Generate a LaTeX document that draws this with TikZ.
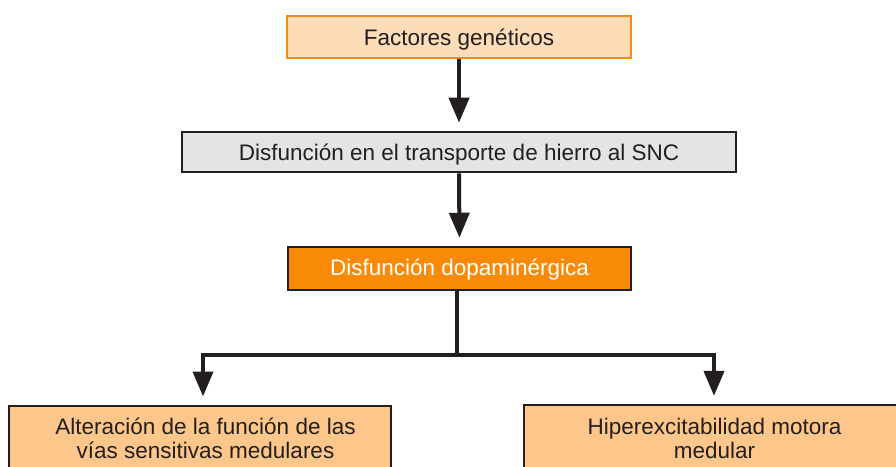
\documentclass[tikz,border=0pt]{standalone}
\usepackage{fontspec}
\setmainfont{Liberation Sans}
\usetikzlibrary{arrows.meta}
\definecolor{ink}{HTML}{231F20}
\definecolor{orangeline}{HTML}{F98C10}
\definecolor{peach}{HTML}{FDDCB8}
\definecolor{greyfill}{HTML}{E3E4E5}
\definecolor{orangefill}{HTML}{F98A08}
\definecolor{tanfill}{HTML}{FDC68A}
\begin{document}
\begin{tikzpicture}[x=1pt,y=-1pt,
  boxshape/.style={draw=ink,line width=2.2pt,inner sep=0pt,rectangle},
  txt/.style={inner sep=0pt,anchor=base,text=ink,align=center,
    font=\fontsize{22.5}{23.5}\selectfont},
  conn/.style={draw=ink,line width=4pt,line join=miter},
  arr/.style={conn,-{Triangle[width=20pt,length=25pt]},shorten >=8pt}]
\clip (0,0) rectangle (896,466);
\fill[white] (0,0) rectangle (896,466);
% boxes
\node[boxshape,draw=orangeline,fill=peach,minimum width=343.8pt,minimum height=42.1pt] (b1) at (459,37.2) {};
\node[boxshape,fill=greyfill,minimum width=553.8pt,minimum height=40.4pt] (b2) at (459,152) {};
\node[boxshape,fill=orangefill,minimum width=342.8pt,minimum height=43.1pt] (b3) at (459.5,268.4) {};
\node[boxshape,fill=tanfill,minimum width=381.8pt,minimum height=80pt] (b4) at (200,445.6) {};
\node[boxshape,fill=tanfill,minimum width=395pt,minimum height=80pt] (b5) at (721.5,445) {};
% texts
\node[txt] (t1) at (459,45.5) {Factores genéticos};
\node[txt] (t2) at (459,160) {Disfunción en el transporte de hierro al SNC};
\node[txt,text=white] (t3) at (459.5,275.5) {Disfunción dopaminérgica};
\node[txt] (t4) at (205.5,458) {Alteración de la función de las\\vías sensitivas medulares};
\node[txt] (t5) at (714.5,458) {Hiperexcitabilidad motora\\medular};
% connectors
\coordinate (j) at (457,355);
\coordinate (xl) at (203,0);
\coordinate (xr) at (714,0);
\draw[arr] (b1.south) -- (b2.north);
\draw[arr] (b2.south) -- (b3.north);
\draw[conn] (b3.south -| j) -- (j);
\draw[arr] (j) -| (b4.north -| xl);
\draw[arr] (j) -| (b5.north -| xr);
\end{tikzpicture}
\end{document}
